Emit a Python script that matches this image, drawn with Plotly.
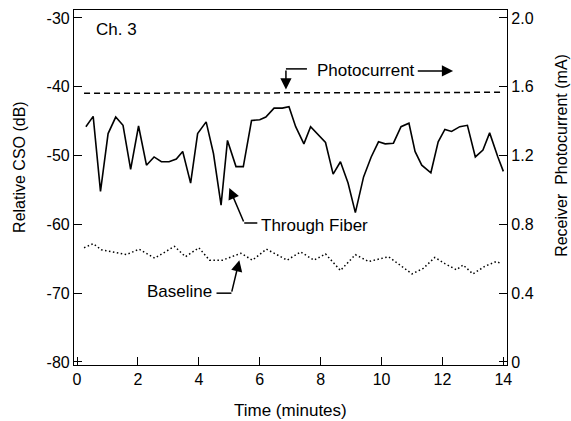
import plotly.graph_objects as go

# Through fiber relative CSO (dB)
fiber_t = [0.29, 0.53, 0.77, 1.02, 1.27, 1.51, 1.76, 2.02, 2.28, 2.53, 2.77, 3.02, 3.26, 3.47,
           3.73, 3.96, 4.24, 4.48, 4.73, 4.94, 5.22, 5.46, 5.73, 6.0, 6.2, 6.47, 6.74, 6.96,
           7.18, 7.45, 7.67, 7.92, 8.16, 8.41, 8.65, 8.9, 9.14, 9.41, 9.66, 9.9, 10.12, 10.39,
           10.64, 10.9, 11.1, 11.32, 11.62, 11.86, 12.08, 12.3, 12.57, 12.82, 13.08, 13.33,
           13.55, 13.82, 14.0]
fiber_cso = [-45.8, -44.3, -55.2, -46.8, -44.4, -45.6, -52.0, -45.7, -51.4, -50.2, -50.9, -50.9,
             -50.5, -49.4, -54.0, -46.8, -45.1, -49.7, -57.2, -47.8, -51.6, -51.6, -44.9, -44.8,
             -44.4, -43.1, -43.1, -42.9, -45.8, -48.3, -45.8, -47.0, -48.1, -52.7, -50.9, -54.0,
             -58.3, -53.1, -50.2, -48.0, -48.3, -48.2, -45.8, -45.3, -49.4, -51.4, -52.5, -48.0,
             -46.2, -46.5, -45.8, -45.6, -50.2, -49.2, -46.7, -50.2, -52.3]

# Baseline relative CSO (dB)
base_t = [0.23, 0.53, 0.8, 1.19, 1.62, 2.04, 2.55, 3.2, 3.56, 4.0, 4.35, 4.78, 5.38, 5.76, 6.22,
          6.9, 7.34, 7.78, 8.16, 8.65, 9.14, 9.58, 10.23, 11.0, 11.37, 11.75, 12.08, 12.46,
          12.68, 13.0, 13.39, 13.77, 13.93]
base_cso = [-63.4, -62.8, -63.7, -64.0, -64.4, -63.6, -64.9, -63.2, -64.7, -63.4, -65.2, -65.2,
            -64.2, -65.2, -63.6, -65.2, -64.0, -65.2, -64.3, -66.7, -64.4, -65.4, -64.7, -67.2,
            -66.4, -64.8, -65.7, -66.6, -65.9, -67.2, -66.1, -65.4, -65.7]

# Receiver photocurrent (mA)
photo_t = [0.23, 3.0, 7.0, 10.0, 14.0]
photo_ma = [1.562, 1.562, 1.564, 1.566, 1.568]

x_ticks = [0, 2, 4, 6, 8, 10, 12, 14]
y_ticks = [-30, -40, -50, -60, -70, -80]
y_labels = ["-30", "-40", "-50", "-60", "-70", "-80"]
y2_ticks = [0, 0.4, 0.8, 1.2, 1.6, 2.0]
y2_labels = ["0", "0.4", "0.8", "1.2", "1.6", "2.0"]

FONT = "Liberation Sans, Arial, Helvetica, sans-serif"

fig = go.Figure()
fig.add_trace(go.Scatter(x=fiber_t, y=fiber_cso, mode="lines",
                         line=dict(color="black", width=1.6), showlegend=False))
fig.add_trace(go.Scatter(x=base_t, y=base_cso, mode="lines",
                         line=dict(color="black", width=1.5, dash="1.5px,2.5px"), showlegend=False))
fig.add_trace(go.Scatter(x=photo_t, y=photo_ma, mode="lines", yaxis="y2",
                         line=dict(color="black", width=1.5, dash="6px,4px"), showlegend=False))

axis_common = dict(showgrid=False, zeroline=False, ticks="inside", ticklen=8, tickwidth=1.2,
                   tickcolor="black", showline=True, linecolor="black", linewidth=1.2,
                   tickfont=dict(family=FONT, size=16, color="black"))

fig.update_layout(
    width=571, height=421,
    margin=dict(l=74, r=64, t=10, b=56),
    paper_bgcolor="white", plot_bgcolor="white",
    xaxis=dict(range=[-0.1, 14.12], tickvals=x_ticks, mirror=True, **axis_common),
    yaxis=dict(range=[-80.44, -28.84], tickvals=y_ticks, ticktext=y_labels, **axis_common),
    yaxis2=dict(range=[-0.0176, 2.0464], tickvals=y2_ticks, ticktext=y2_labels,
                overlaying="y", side="right", **axis_common),
)

ann_font = dict(family=FONT, size=17, color="black")
title_font = dict(family=FONT, size=16, color="black")
arrow = dict(showarrow=True, arrowhead=2, arrowsize=1.5, arrowwidth=1.5, arrowcolor="black",
             xref="x", yref="y", axref="x", ayref="y", text="")

annotations = [
    dict(text="Ch. 3", x=1.31, y=-31.7, xref="x", yref="y", showarrow=False, font=ann_font),
    dict(text="Photocurrent", x=9.48, y=-37.6, xref="x", yref="y", showarrow=False, font=ann_font),
    dict(text="Through Fiber", x=7.81, y=-60.1, xref="x", yref="y", showarrow=False, font=ann_font),
    dict(text="Baseline", x=3.37, y=-69.8, xref="x", yref="y", showarrow=False, font=ann_font),
    # arrows
    dict(x=6.86, y=-40.4, ax=6.86, ay=-37.4, **arrow),
    dict(x=12.35, y=-37.7, ax=11.14, ay=-37.7, **arrow),
    dict(x=5.0, y=-54.7, ax=5.49, ay=-59.8, **arrow),
    dict(x=5.33, y=-65.2, ax=5.07, ay=-70.0, **arrow),
    # axis titles
    dict(text="Relative CSO (dB)", x=-0.1247, y=0.558, xref="paper", yref="paper",
         xanchor="center", yanchor="middle",
         showarrow=False, textangle=-90, font=title_font),
    dict(text="Receiver  Photocurrent (mA)", x=1.127, y=0.592, xref="paper", yref="paper",
         xanchor="center", yanchor="middle",
         showarrow=False, textangle=-90, font=title_font),
    dict(text="Time (minutes)", x=0.499, y=-0.127, xref="paper", yref="paper",
         xanchor="center", yanchor="middle",
         showarrow=False, font=dict(family=FONT, size=17, color="black")),
]
fig.update_layout(annotations=annotations)

line_style = dict(color="black", width=1.5)
shapes = [
    dict(type="line", xref="x", yref="y", x0=7.55, y0=-37.4, x1=6.86, y1=-37.4, line=line_style),
    dict(type="line", xref="x", yref="y", x0=5.92, y0=-59.8, x1=5.49, y1=-59.8, line=line_style),
    dict(type="line", xref="x", yref="y", x0=4.58, y0=-70.0, x1=5.07, y1=-70.0, line=line_style),
]
fig.update_layout(shapes=shapes)

fig.write_html("out.html")
